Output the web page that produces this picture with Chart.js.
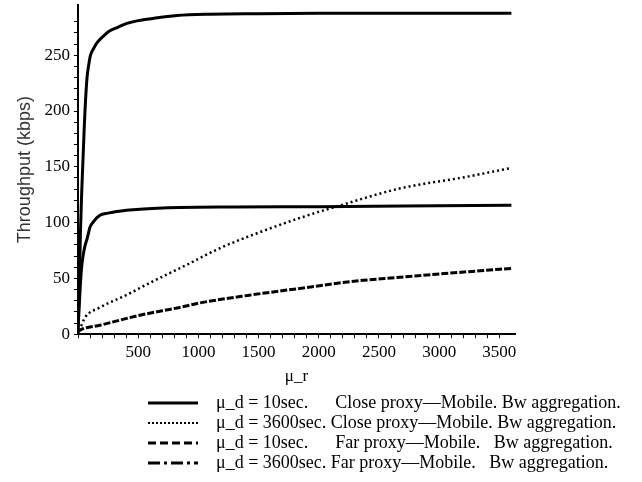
<!DOCTYPE html>
<html>

<head>
  <meta charset="utf-8">
  <title>Throughput vs mu_r</title>
  <script src="https://cdn.jsdelivr.net/npm/chart.js@4.4.1/dist/chart.umd.min.js"></script>
  <style>
    html, body { margin: 0; padding: 0; background: #fff; }
  </style>
</head>

<body>
  <div style="position: relative; width: 642px; height: 482px;">
    <canvas id="chart"></canvas>
  </div>

<script>
  // values (mu_r in x, throughput in kbps in y)
  const xClose10 = [0, 10, 20, 30, 39, 50, 58, 75, 90, 104, 130, 157, 200, 265, 330, 406, 500, 622, 821, 1094, 1500, 2000, 2700, 3600];
  const yClose10 = [5, 40, 90, 125, 150, 180, 200, 230, 242, 250, 256, 261, 266, 272, 275, 278.5, 281, 283, 285.5, 286.7, 287.2, 287.5, 287.6, 287.6];

  const xClose3600 = [0, 22, 58, 182, 400, 597, 900, 1177, 1500, 1866, 2197, 2670, 3226, 3600];
  const yClose3600 = [4, 6.5, 15, 24, 35, 46, 62, 77, 91, 105, 116, 130.5, 141, 149];

  const xFar10 = [0, 10, 20, 30, 45, 60, 77, 90, 100, 130, 182, 250, 321, 514, 846, 1300, 2000, 2700, 3600];
  const yFar10 = [3, 25, 45, 60, 72, 80, 86, 92, 96, 101, 106.5, 108.5, 110, 112, 113.5, 114, 114.3, 114.8, 115.6];

  const xFar3600 = [0, 17, 182, 514, 846, 1012, 1426, 1841, 2255, 2643, 2944, 3300, 3600];
  const yFar3600 = [2, 3.6, 8, 17, 24, 28, 35, 41, 47, 50.8, 53.5, 56.5, 59];

  const seriesLabels = [
    '  \u03bc_d = 10sec.      Close proxy\u2014Mobile. Bw aggregation.',
    '  \u03bc_d = 3600sec. Close proxy\u2014Mobile. Bw aggregation.',
    '  \u03bc_d = 10sec.      Far proxy\u2014Mobile.   Bw aggregation.',
    '  \u03bc_d = 3600sec. Far proxy\u2014Mobile.   Bw aggregation.',
  ];

  const xTickLabels = [500, 1000, 1500, 2000, 2500, 3000, 3500];
  const yTickLabels = [0, 50, 100, 150, 200, 250];

  // legend samples as shown under the plot
  const legendDash = [[], [2, 2], [8, 4], [12, 4, 3, 4]];
  const legendWidth = [3, 2, 3, 3];

  const toPoints = (xs, ys) => xs.map((x, i) => ({ x: x, y: ys[i] }));

  Chart.defaults.font.family = 'Liberation Serif';
  Chart.defaults.color = '#000';

  const data = {
    datasets: [{
      label: seriesLabels[0],
      data: toPoints(xClose10, yClose10),
      borderColor: '#000',
      borderWidth: 3,
    }, {
      label: seriesLabels[1],
      data: toPoints(xClose3600, yClose3600),
      borderColor: '#000',
      borderWidth: 2.5,
      borderDash: [2, 3],
    }, {
      label: seriesLabels[2],
      data: toPoints(xFar10, yFar10),
      borderColor: '#000',
      borderWidth: 3,
    }, {
      label: seriesLabels[3],
      data: toPoints(xFar3600, yFar3600),
      borderColor: '#000',
      borderWidth: 3,
      borderDash: [7, 2],
    }]
  };

  // the legend block sits to the right of the plot's left edge
  const legendShift = {
    id: 'legendShift',
    afterLayout(chart) {
      chart.legend.left = 146;
    }
  };

  const axisGrid = {
    display: true,
    drawOnChartArea: false,
    drawTicks: true,
    tickLength: 4,
    color: '#000',
    lineWidth: 1,
  };

  const config = {
    type: 'line',
    data: data,
    plugins: [legendShift],
    options: {
      responsive: true,
      maintainAspectRatio: false,
      animation: false,
      events: [],
      layout: { padding: { left: 14, top: 5, right: 9, bottom: 0 } },
      elements: {
        point: { radius: 0 },
        line: { cubicInterpolationMode: 'monotone', fill: false },
      },
      plugins: {
        tooltip: { enabled: false },
        legend: {
          position: 'bottom',
          align: 'start',
          labels: {
            usePointStyle: true,
            pointStyle: 'line',
            pointStyleWidth: 50,
            padding: 2,
            color: '#000',
            font: { size: 18 },
            generateLabels(chart) {
              const items = Chart.defaults.plugins.legend.labels.generateLabels(chart);
              items.forEach((item, i) => {
                item.lineDash = legendDash[i];
                item.lineWidth = legendWidth[i];
                item.strokeStyle = '#000';
                item.pointStyle = 'line';
              });
              return items;
            }
          }
        }
      },
      scales: {
        x: {
          type: 'linear',
          min: 0,
          max: 3630,
          border: { color: '#000', width: 2 },
          grid: axisGrid,
          afterBuildTicks: s => { s.ticks = s.ticks.filter(t => t.value % 100 === 0); },
          ticks: {
            stepSize: 100,
            autoSkip: false,
            maxRotation: 0,
            padding: 4,
            font: { size: 17 },
            callback: v => xTickLabels.includes(v) ? String(v) : '',
          },
          title: {
            display: true,
            text: '\u03bc_r',
            font: { size: 17 },
            padding: { top: 0, bottom: 5 },
          }
        },
        y: {
          min: 0,
          max: 295,
          border: { color: '#000', width: 2 },
          grid: axisGrid,
          afterBuildTicks: s => { s.ticks = s.ticks.filter(t => t.value % 10 === 0); },
          afterFit: s => { s.width = 64; s.paddingTop = 0; s.paddingBottom = 0; },
          ticks: {
            stepSize: 10,
            autoSkip: false,
            padding: 4,
            font: { size: 17 },
            callback: v => yTickLabels.includes(v) ? String(v) : '',
          },
          title: {
            display: true,
            text: 'Throughput (kbps)',
            color: '#333',
            font: { family: 'Liberation Sans', size: 18 },
            padding: 0,
          }
        },
        // empty space on the right of the plot
        pad: {
          type: 'linear',
          position: 'right',
          grid: { display: false },
          border: { display: false },
          ticks: { display: false },
          afterFit: s => { s.width = 118; },
        }
      }
    }
  };

  const chart = new Chart(document.getElementById('chart'), config);
</script>
</body>

</html>
